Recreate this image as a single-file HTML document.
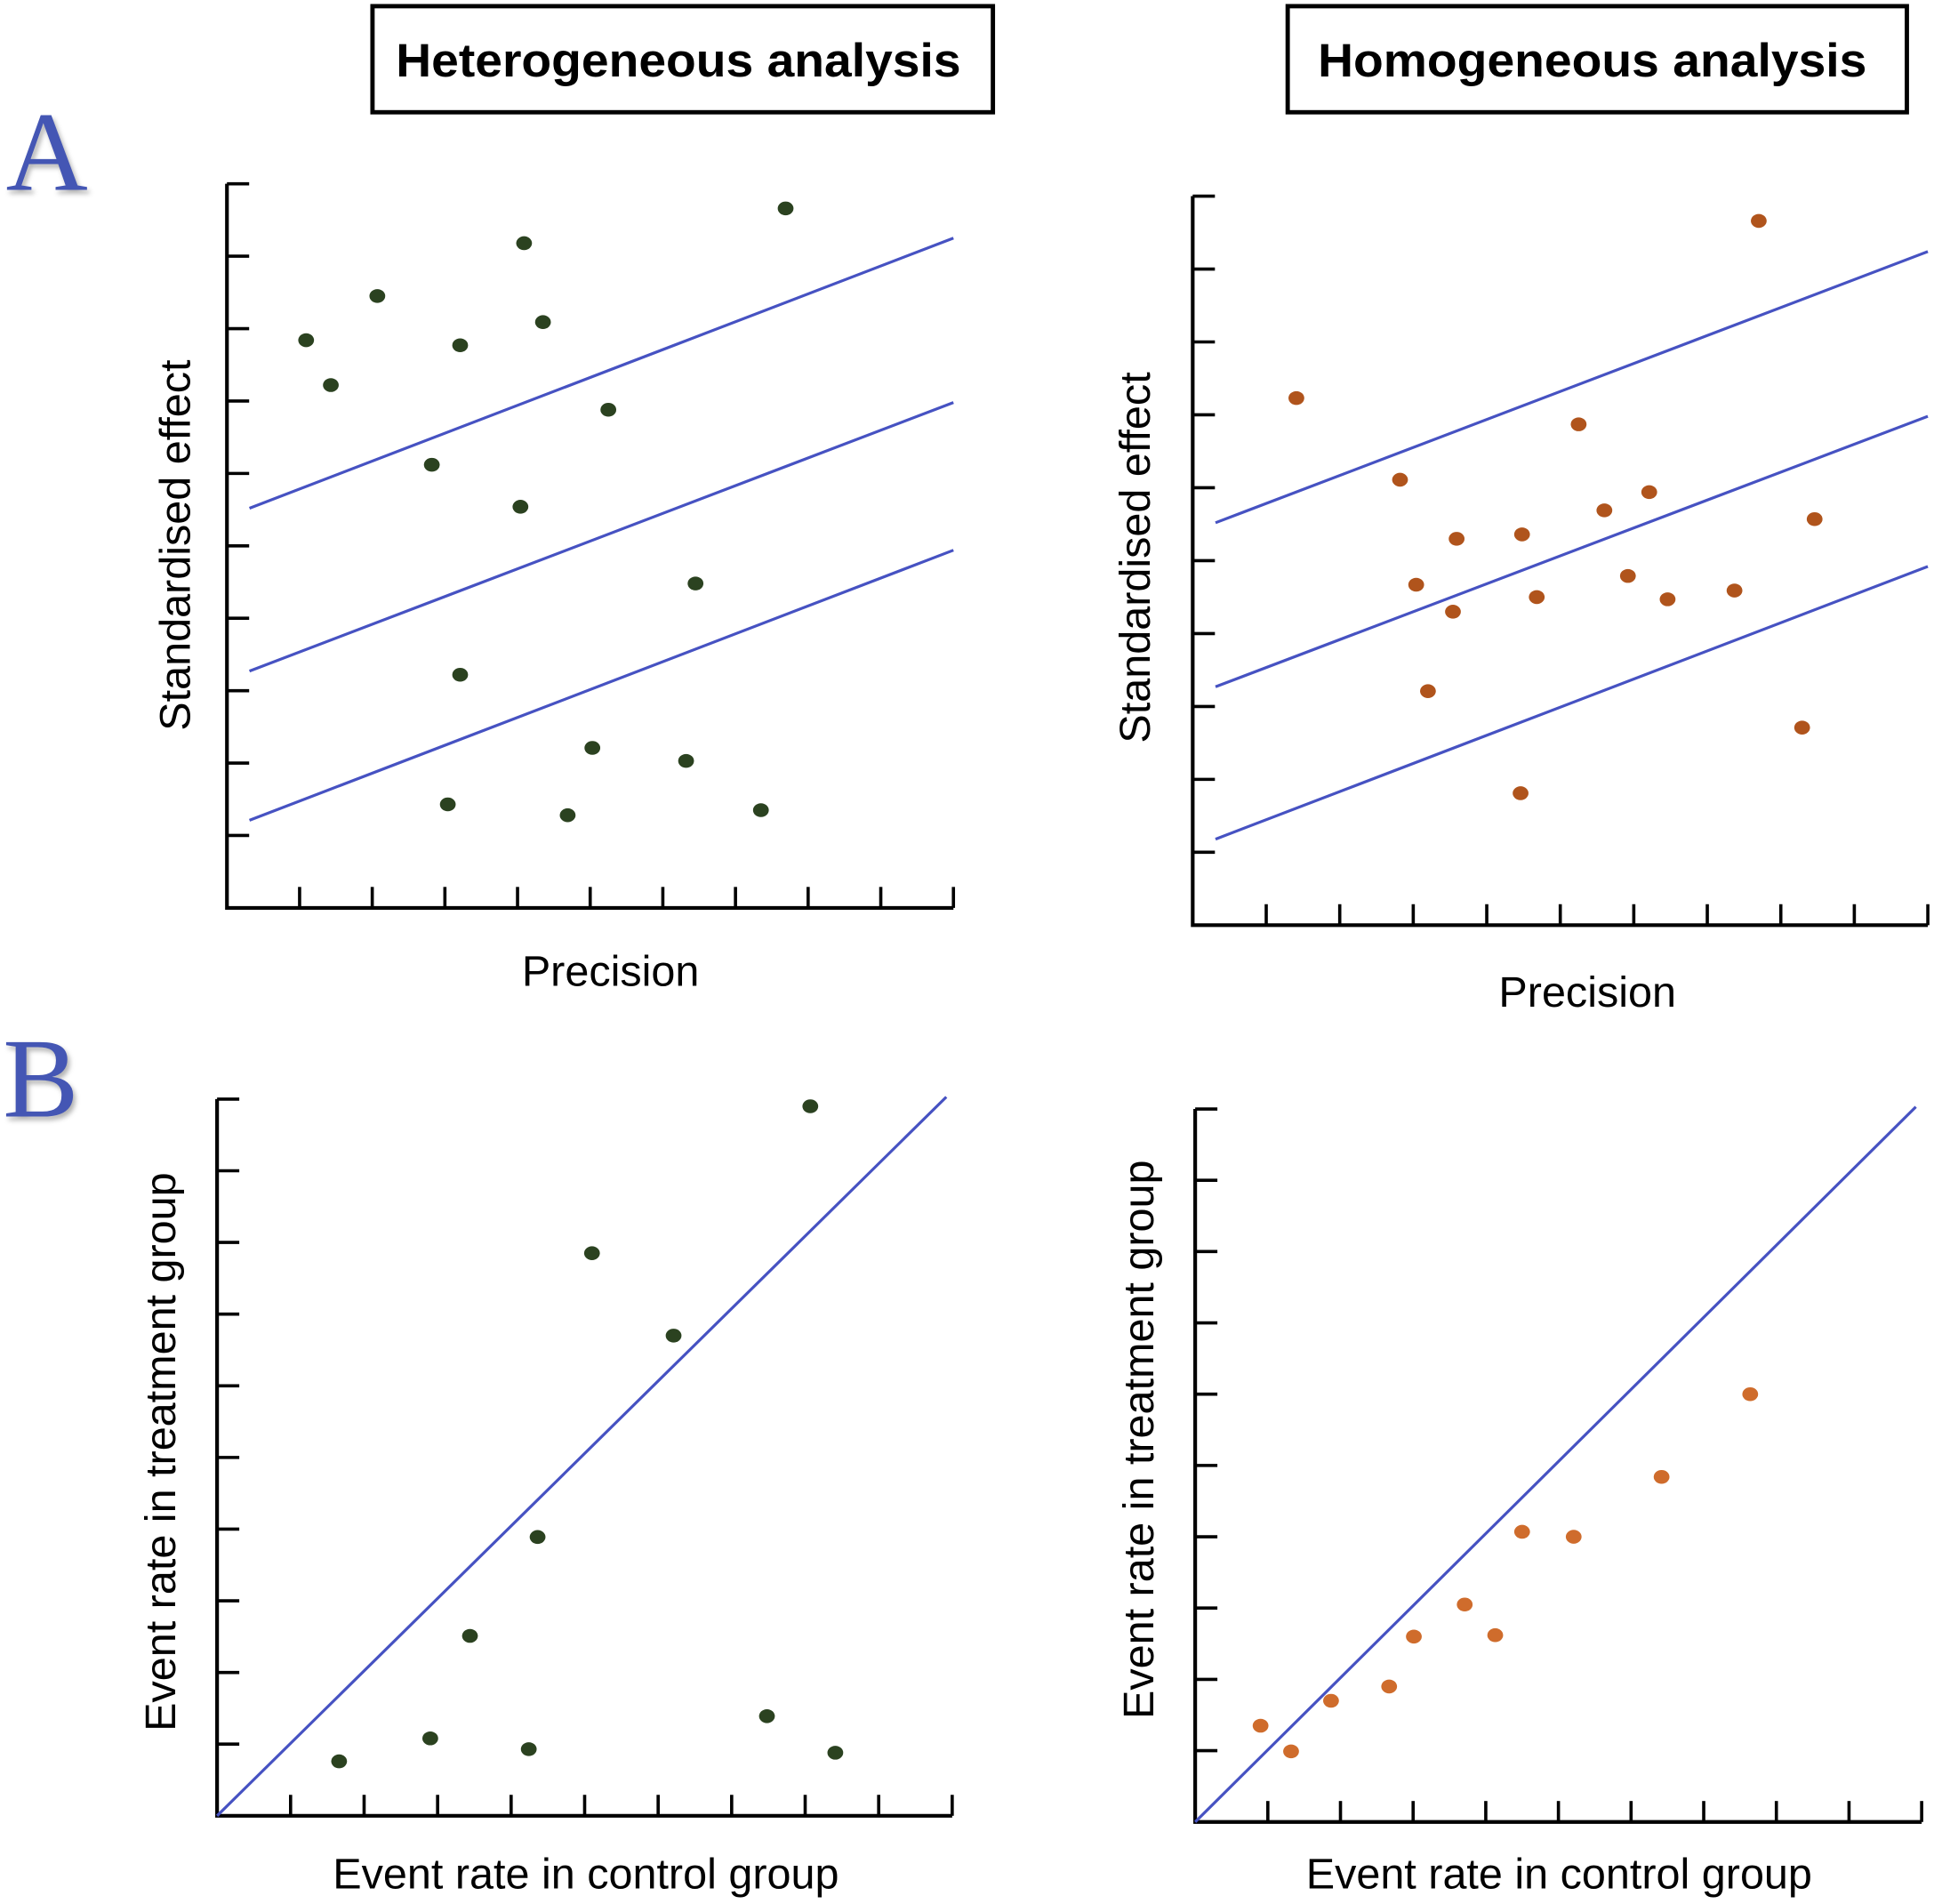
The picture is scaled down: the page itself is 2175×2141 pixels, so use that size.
<!DOCTYPE html>
<html><head><meta charset="utf-8"><style>
html,body{margin:0;padding:0;background:#fff;}
svg{display:block;}
text{font-family:"Liberation Sans",Arial,sans-serif;}
</style></head><body>
<svg id="fig" width="2175" height="2141" viewBox="0 0 1568 1543.5" preserveAspectRatio="none" xmlns="http://www.w3.org/2000/svg">
<rect x="0" y="0" width="1568" height="1543.5" fill="#fff"/>
<g>
<rect x="302" y="5" width="503" height="86" fill="#fff" stroke="#000" stroke-width="3.5"/>
<text x="550" y="62" text-anchor="middle" font-size="38" font-weight="bold" textLength="458" lengthAdjust="spacingAndGlyphs">Heterogeneous analysis</text>
</g>
<g>
<rect x="1044" y="5" width="502" height="86" fill="#fff" stroke="#000" stroke-width="3.5"/>
<text x="1291" y="62" text-anchor="middle" font-size="38" font-weight="bold" textLength="445" lengthAdjust="spacingAndGlyphs">Homogeneous analysis</text>
</g>
<text x="38" y="154" text-anchor="middle" font-size="92" fill="#4456b4" style="font-family:'Liberation Serif',serif;filter:drop-shadow(2px 3px 2px rgba(0,0,0,0.3))">A</text>
<text x="33" y="905" text-anchor="middle" font-size="92" fill="#4456b4" style="font-family:'Liberation Serif',serif;filter:drop-shadow(2px 3px 2px rgba(0,0,0,0.3))">B</text>
<g id="charts"></g>
</svg>
<script>
// Panel A left (heterogeneous)
const aLeftX = [1.09,1.43,2.07,3.21,4.09,4.35,7.69,5.25,2.82,4.04,6.45,3.21,5.03,6.32,3.04,4.69,7.35];
const aLeftY = [7.84,7.22,8.45,7.77,9.18,8.09,9.66,6.88,6.12,5.54,4.48,3.22,2.21,2.03,1.43,1.28,1.35];
const aLeftLineStart = [5.52,3.27,1.21];
const aLeftLineEnd = [9.25,6.98,4.94];
// Panel A right (homogeneous)
const aRightX = [1.41,7.70,5.25,2.82,6.21,5.60,8.46,3.59,4.48,3.04,5.92,4.68,6.46,7.37,3.54,3.20,8.29,4.46];
const aRightY = [7.23,9.66,6.87,6.11,5.94,5.69,5.57,5.30,5.36,4.67,4.79,4.50,4.47,4.59,4.30,3.21,2.71,1.81];
const aRightLineStart = [5.52,3.27,1.18];
const aRightLineEnd = [9.24,6.98,4.92];
const lineX = [0.31,10];
// Panel B left
const bLeftX = [8.07,5.10,6.21,4.36,3.44,7.48,2.90,4.24,8.41,1.66];
const bLeftY = [9.90,7.85,6.70,3.89,2.51,1.39,1.08,0.93,0.88,0.76];
// Panel B right
const bRightX = [0.90,1.32,1.87,2.67,3.01,3.71,4.13,4.50,5.21,6.42,7.64];
const bRightY = [1.35,0.99,1.70,1.90,2.60,3.05,2.62,4.07,4.00,4.84,6.00];
const diagX = [0,9.92];
const diagY = [0,10.03];
const tickValues = [1,2,3,4,5,6,7,8,9,10];

const NS = "http://www.w3.org/2000/svg";
const root = document.getElementById('charts');
function mk(tag, attrs, parent){const e=document.createElementNS(NS,tag);for(const k in attrs)e.setAttribute(k,attrs[k]);parent.appendChild(e);return e;}

function panel(cfg){
  const g = mk('g',{},root);
  
  
  const sx = v => cfg.x0 + v*cfg.dx;
  const sy = v => cfg.y0 - v*cfg.dy;
  const ax = mk('path',{d:`M${sx(0)},${sy(10)} L${sx(0)},${sy(0)} L${sx(10)},${sy(0)}`,fill:'none',stroke:'#000','stroke-width':3},g);
  
  
  tickValues.forEach(t=>{
    const ty = mk('line',{x1:sx(0),x2:sx(0)+18,y1:sy(t),y2:sy(t),stroke:'#000','stroke-width':2.6},g);
    
    
    const tx = mk('line',{x1:sx(t),x2:sx(t),y1:sy(0),y2:sy(0)-17,stroke:'#000','stroke-width':2.6},g);
    
    
  });
  cfg.lines.forEach(l=>{
    const ln = mk('line',{x1:sx(l[0]),y1:sy(l[1]),x2:sx(l[2]),y2:sy(l[3]),stroke:'#4652c2','stroke-width':2.3},g);
    
    
  });
  cfg.xs.forEach((v,i)=>{
    const p = mk('ellipse',{cx:sx(v),cy:sy(cfg.ys[i]),rx:6.4,ry:5.6,fill:cfg.color},g);
    
    
  });
  const xl = mk('text',{x:cfg.xl[0],y:cfg.xl[1],'text-anchor':'middle','font-size':35},g);
  xl.textContent = cfg.xlabel;
  
  
  const yl = mk('text',{x:0,y:0,'text-anchor':'middle','font-size':35,transform:`translate(${cfg.yl[0]},${cfg.yl[1]}) rotate(-90)`},g);
  yl.textContent = cfg.ylabel;
  
  
}

panel({name:'chart-a-heterogeneous',x0:184,y0:736,dx:58.9,dy:58.7,xs:aLeftX,ys:aLeftY,color:'#2b4220',
  lines:aLeftLineStart.map((s,i)=>[lineX[0],s,lineX[1],aLeftLineEnd[i]]),
  xlabel:'Precision',xl:[495,799],ylabel:'Standardised effect',yl:[154,442]});
panel({name:'chart-a-homogeneous',x0:967,y0:750,dx:59.6,dy:59.1,xs:aRightX,ys:aRightY,color:'#b0541c',
  lines:aRightLineStart.map((s,i)=>[lineX[0],s,lineX[1],aRightLineEnd[i]]),
  xlabel:'Precision',xl:[1287,816],ylabel:'Standardised effect',yl:[932,452]});
panel({name:'chart-b-heterogeneous',x0:176,y0:1472,dx:59.6,dy:58.1,xs:bLeftX,ys:bLeftY,color:'#2b4220',
  lines:[[diagX[0],diagY[0],diagX[1],diagY[1]]],
  xlabel:'Event rate in control group',xl:[475,1531],ylabel:'Event rate in treatment group',yl:[142,1177]});
panel({name:'chart-b-homogeneous',x0:969,y0:1477,dx:58.9,dy:57.8,xs:bRightX,ys:bRightY,color:'#cf6c2c',
  lines:[[diagX[0],diagY[0],diagX[1],diagY[1]]],
  xlabel:'Event rate in control group',xl:[1264,1531],ylabel:'Event rate in treatment group',yl:[935,1167]});
</script>
</body></html>
